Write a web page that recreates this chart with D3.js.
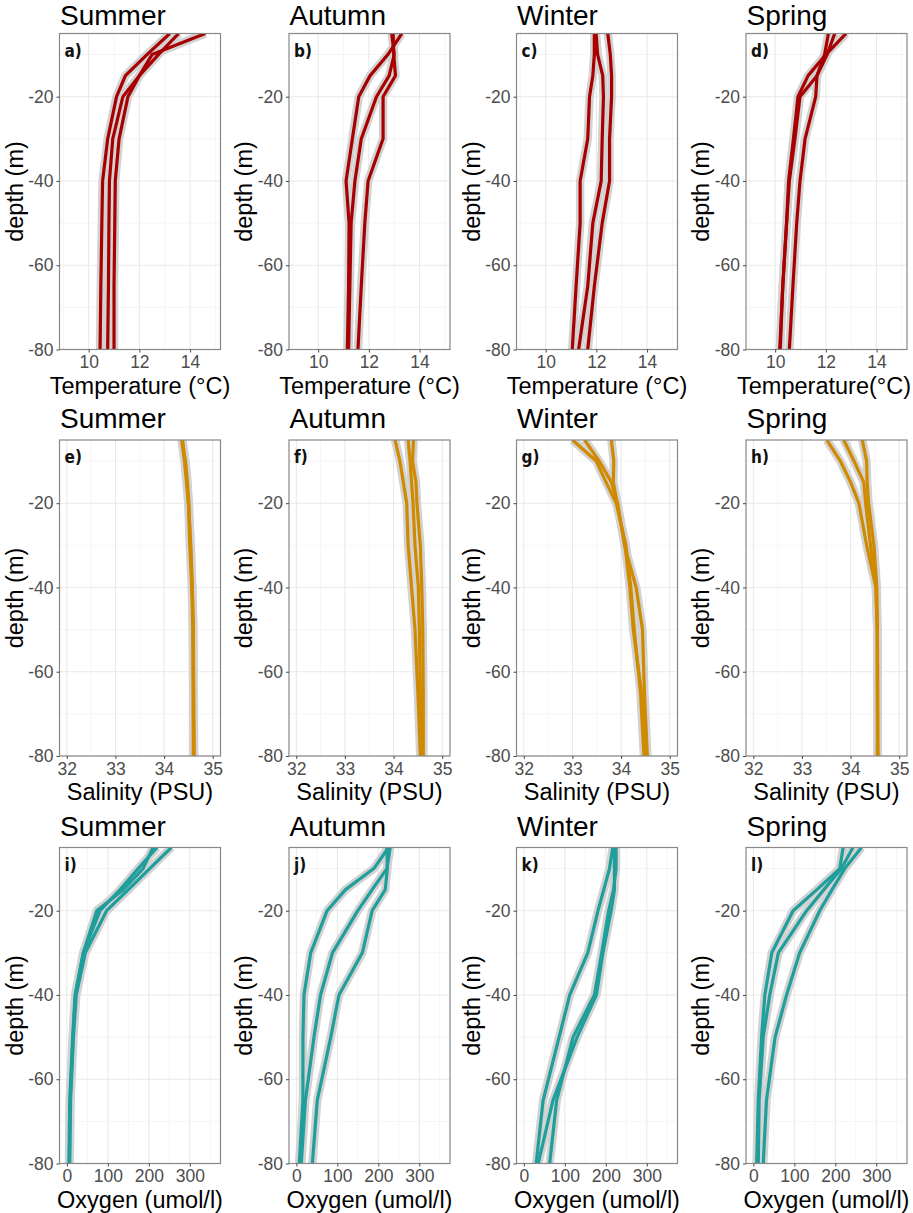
<!DOCTYPE html>
<html>
<head>
<meta charset="utf-8">
<script src="https://cdn.jsdelivr.net/npm/d3@7"></script>
<style>
body { margin: 0; background: #fff; }
text { font-family: "Liberation Sans", Arial, sans-serif; }
</style>
</head>
<body>
<div id="chart"></div>
<script>
// ---- data ----
var seasons = ["Summer", "Autumn", "Winter", "Spring"];
var panelLetters = ["a)", "b)", "c)", "d)", "e)", "f)", "g)", "h)", "i)", "j)", "k)", "l)"];
var depths = [-5, -10, -15, -20, -30, -40, -50, -65, -80];
var depthTicks = [-20, -40, -60, -80];
var depthMinor = [-10, -30, -50, -70];

var tempTicks = [10, 12, 14];
var tempMinor = [9, 11, 13, 15];
var salTicks = [32, 33, 34, 35];
var salMinor = [32.5, 33.5, 34.5];
var oxyTicks = [0, 100, 200, 300];
var oxyMinor = [50, 150, 250, 350];

var tempTitles = ["Temperature (°C)", "Temperature (°C)", "Temperature (°C)", "Temperature(°C)"];
var salTitles = ["Salinity (PSU)", "Salinity (PSU)", "Salinity (PSU)", "Salinity (PSU)"];
var oxyTitles = ["Oxygen (umol/l)", "Oxygen (umol/l)", "Oxygen (umol/l)", "Oxygen (umol/l)"];

// three profiles per panel, values at each depth above
var tempSummer = [
	[13.2, 12.3, 11.45, 11.1, 10.75, 10.55, 10.52, 10.48, 10.45],
	[13.55, 12.75, 12.0, 11.35, 10.95, 10.82, 10.8, 10.78, 10.75],
	[14.6, 12.5, 12.0, 11.55, 11.2, 11.05, 11.03, 11.0, 11.0]
];
var tempAutumn = [
	[13.3, 12.75, 12.05, 11.6, 11.35, 11.1, 11.22, 11.2, 11.15],
	[12.9, 13.0, 12.8, 12.3, 11.7, 11.45, 11.3, 11.25, 11.2],
	[12.96, 12.98, 13.05, 12.56, 12.56, 11.97, 11.84, 11.7, 11.57]
];
var tempWinter = [
	[11.92, 11.92, 11.86, 11.73, 11.66, 11.36, 11.36, 11.2, 11.05],
	[11.99, 12.05, 12.25, 12.28, 12.23, 12.19, 11.86, 11.66, 11.3],
	[12.45, 12.55, 12.6, 12.6, 12.52, 12.52, 12.23, 11.92, 11.66]
];
var tempSpring = [
	[12.1, 11.95, 11.65, 10.98, 10.78, 10.56, 10.45, 10.3, 10.18],
	[12.8, 12.0, 11.3, 10.9, 10.72, 10.53, 10.45, 10.3, 10.2],
	[12.35, 12.05, 11.65, 11.6, 11.18, 10.98, 10.85, 10.7, 10.56]
];

var salSummer = [
	[34.37, 34.44, 34.48, 34.51, 34.54, 34.58, 34.6, 34.6, 34.61],
	[34.38, 34.43, 34.47, 34.5, 34.55, 34.58, 34.6, 34.61, 34.62],
	[34.36, 34.42, 34.46, 34.5, 34.53, 34.57, 34.59, 34.6, 34.6]
];
var salAutumn = [
	[34.03, 34.13, 34.2, 34.27, 34.3, 34.37, 34.44, 34.5, 34.55],
	[34.3, 34.34, 34.37, 34.4, 34.44, 34.51, 34.53, 34.55, 34.58],
	[34.41, 34.39, 34.46, 34.48, 34.55, 34.58, 34.6, 34.61, 34.61]
];
var salWinter = [
	[33.0, 33.49, 33.69, 33.9, 34.1, 34.2, 34.27, 34.4, 34.47],
	[33.25, 33.55, 33.8, 33.93, 34.07, 34.31, 34.44, 34.48, 34.54],
	[33.8, 33.85, 33.84, 33.92, 34.08, 34.18, 34.25, 34.42, 34.52]
];
var salSpring = [
	[33.51, 33.79, 34.0, 34.17, 34.33, 34.52, 34.55, 34.55, 34.55],
	[33.86, 34.07, 34.27, 34.31, 34.41, 34.52, 34.55, 34.55, 34.56],
	[34.24, 34.33, 34.34, 34.37, 34.48, 34.54, 34.55, 34.56, 34.56]
];

var oxySummer = [
	[210, 186, 138, 73, 40, 20, 14, 7, 5],
	[220, 174, 130, 81, 40, 21, 15, 8, 6],
	[255, 202, 150, 97, 45, 23, 16, 9, 7]
];
var oxyAutumn = [
	[225, 189, 120, 75, 35, 18.5, 16, 16, 7],
	[229, 221, 185, 150, 88, 59, 43, 22, 12],
	[221, 222, 217, 185, 161, 104, 84, 51, 39]
];
var oxyWinter = [
	[217, 209, 195, 181, 156, 112, 86, 47, 30],
	[221, 221, 221, 213, 193, 177, 130, 71, 35],
	[225, 225, 219, 207, 190, 172, 120, 80, 63]
];
var oxySpring = [
	[219, 211, 155, 97, 45, 28, 20, 12, 8],
	[243, 215, 172, 130, 61, 40, 24, 14, 12],
	[264, 223, 192, 162, 113, 81, 53, 32, 24]
];

// ---- layout ----
var W = 913, H = 1213;
var colLeft = [59.5, 289, 516.5, 746];
var rowTop = [33.5, 440, 847.5];
var titleBase = [25, 428, 836];
var xTitleGap = [44, 44, 44];
var pw = 161, ph = 316;

var rows = [
	{color: "#a80000", domain: [8.85, 15.2], ticks: tempTicks, minor: tempMinor, titles: tempTitles,
		data: [tempSummer, tempAutumn, tempWinter, tempSpring]},
	{color: "#d08a00", domain: [31.85, 35.16], ticks: salTicks, minor: salMinor, titles: salTitles,
		data: [salSummer, salAutumn, salWinter, salSpring]},
	{color: "#1f9e9b", domain: [-18, 375], ticks: oxyTicks, minor: oxyMinor, titles: oxyTitles,
		data: [oxySummer, oxyAutumn, oxyWinter, oxySpring]}
];

var svg = d3.select("#chart").append("svg")
	.attr("width", W)
	.attr("height", H);

svg.append("rect").attr("width", W).attr("height", H).attr("fill", "#fff");

var y = d3.scaleLinear().domain([-80, -5]).range([ph, 0]);

rows.forEach(function(row, r) {
	var x = d3.scaleLinear().domain(row.domain).range([0, pw]);

	seasons.forEach(function(season, c) {
		var idx = r * 4 + c;
		var g = svg.append("g")
			.attr("transform", "translate(" + colLeft[c] + "," + rowTop[r] + ")");

		// clip
		g.append("clipPath").attr("id", "clip" + idx)
			.append("rect").attr("width", pw).attr("height", ph);

		// minor grid
		g.selectAll(".vminor").data(row.minor.filter(function(v) { return v > row.domain[0] && v < row.domain[1]; }))
			.enter().append("line")
			.attr("x1", function(d) { return x(d); }).attr("x2", function(d) { return x(d); })
			.attr("y1", 0).attr("y2", ph)
			.attr("stroke", "#f3f3f3").attr("stroke-width", 0.8);
		g.selectAll(".hminor").data(depthMinor)
			.enter().append("line")
			.attr("y1", function(d) { return y(d); }).attr("y2", function(d) { return y(d); })
			.attr("x1", 0).attr("x2", pw)
			.attr("stroke", "#f3f3f3").attr("stroke-width", 0.8);

		// major grid
		g.selectAll(".vmajor").data(row.ticks)
			.enter().append("line")
			.attr("x1", function(d) { return x(d); }).attr("x2", function(d) { return x(d); })
			.attr("y1", 0).attr("y2", ph)
			.attr("stroke", "#e9e9e9").attr("stroke-width", 1.1);
		g.selectAll(".hmajor").data(depthTicks)
			.enter().append("line")
			.attr("y1", function(d) { return y(d); }).attr("y2", function(d) { return y(d); })
			.attr("x1", 0).attr("x2", pw)
			.attr("stroke", "#e9e9e9").attr("stroke-width", 1.1);

		// profiles
		var profiles = row.data[c].map(function(vals) {
			return vals.map(function(v, i) { return {v: v, d: depths[i]}; });
		});
		var line = d3.line()
			.x(function(d) { return x(d.v); })
			.y(function(d) { return y(d.d); });

		var lines = g.append("g").attr("clip-path", "url(#clip" + idx + ")");
		lines.selectAll(".band").data(profiles)
			.enter().append("path")
			.attr("d", line)
			.attr("fill", "none")
			.attr("stroke", "#d2d2d2")
			.attr("stroke-width", 8.5)
			.attr("stroke-linejoin", "round");
		lines.selectAll(".prof").data(profiles)
			.enter().append("path")
			.attr("d", line)
			.attr("fill", "none")
			.attr("stroke", row.color)
			.attr("stroke-width", 3.2)
			.attr("stroke-linejoin", "round");

		// border
		g.append("rect")
			.attr("width", pw).attr("height", ph)
			.attr("fill", "none").attr("stroke", "#888").attr("stroke-width", 1.2);

		// axes
		var ax = g.append("g")
			.attr("transform", "translate(0," + ph + ")")
			.call(d3.axisBottom(x).tickValues(row.ticks).tickSize(3).tickPadding(3.5).tickFormat(function(d) { return String(d); }));
		var ay = g.append("g")
			.call(d3.axisLeft(y).tickValues(depthTicks).tickSize(3).tickPadding(3).tickFormat(function(d) { return String(d); }));
		[ax, ay].forEach(function(a) {
			a.select(".domain").remove();
			a.selectAll(".tick line").attr("stroke", "#444");
			a.selectAll("text")
				.attr("fill", "#4d4d4d")
				.style("font-size", "17.5px")
				.style("font-family", "'Liberation Sans', Arial, sans-serif");
		});

		// panel letter
		g.append("text")
			.attr("x", 5).attr("y", 23)
			.style("font-family", "'Liberation Sans Narrow', 'DejaVu Sans Condensed', sans-serif")
			.style("font-weight", "bold")
			.style("font-size", "17px")
			.attr("fill", "#111")
			.text(panelLetters[idx]);

		// season title
		svg.append("text")
			.attr("x", colLeft[c] + 0.5).attr("y", titleBase[r])
			.style("font-size", "28px")
			.attr("fill", "#000")
			.text(season);

		// x axis title, kept inside the page
		var xt = g.append("text")
			.attr("x", pw / 2).attr("y", ph + xTitleGap[r])
			.attr("text-anchor", "middle")
			.style("font-size", "23.5px")
			.attr("fill", "#000")
			.text(row.titles[c]);
		var wText = xt.node().getComputedTextLength();
		var over = colLeft[c] + pw / 2 + wText / 2 - (W - 2);
		if (over > 0) xt.attr("x", pw / 2 - over);

		// y axis title
		g.append("text")
			.attr("transform", "translate(-37," + (ph / 2) + ") rotate(-90)")
			.attr("text-anchor", "middle")
			.style("font-size", "23.5px")
			.attr("fill", "#000")
			.text("depth (m)");
	});
});
</script>
</body>
</html>
